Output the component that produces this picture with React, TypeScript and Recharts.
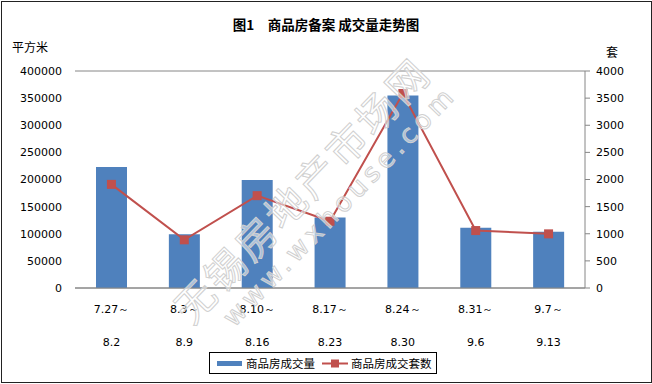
import React from 'react';
import { ComposedChart, Bar, Line, XAxis, YAxis, CartesianGrid } from 'recharts';

const periodStart = ['7.27～', '8.3～', '8.10～', '8.17～', '8.24～', '8.31～', '9.7～'];
const periodEnd = ['8.2', '8.9', '8.16', '8.23', '8.30', '9.6', '9.13'];
const areaValues = [223000, 99000, 199000, 130000, 355000, 111000, 103500];
const unitValues = [1910, 888, 1702, 1231, 3585, 1059, 998];
const leftTicks = [0, 50000, 100000, 150000, 200000, 250000, 300000, 350000, 400000];
const rightTicks = [0, 500, 1000, 1500, 2000, 2500, 3000, 3500, 4000];

const data = periodStart.map((s, i) => ({
  start: s,
  end: periodEnd[i],
  area: areaValues[i],
  units: unitValues[i],
}));

const BLUE = '#4F81BD';
const RED = '#C0504D';
const GRID = '#868686';
const NUM_FONT = '"DejaVu Sans", Verdana, sans-serif';
const CJK_FONT = '"Noto Sans CJK SC", "Noto Sans", sans-serif';

const XTick = (props: any) => {
  const { x, y, payload } = props;
  const i = payload.index;
  return (
    <g>
      <text x={x} y={y + 25} textAnchor="middle" fontSize={11} fontFamily={NUM_FONT} fill="#000">
        {periodStart[i]}
      </text>
      <text x={x} y={y + 58} textAnchor="middle" fontSize={11} fontFamily={NUM_FONT} fill="#000">
        {periodEnd[i]}
      </text>
    </g>
  );
};

const SquareDot = (props: any) => {
  const { cx, cy } = props;
  if (cx == null || cy == null) return null;
  return <rect x={cx - 4.5} y={cy - 4.5} width={9} height={9} fill={RED} />;
};

export default function App() {
  return (
    <div style={{ position: 'absolute', left: 0, top: 0, width: 652, height: 384, background: '#fff' }}>
      <style>{`body{margin:0}`}</style>
      <div
        style={{
          position: 'absolute', left: 1, top: 1, width: 649, height: 380,
          border: '1px solid #222', pointerEvents: 'none', zIndex: 2,
        }}
      />
      <div
        style={{
          position: 'absolute', left: 0, top: 14, width: 652, textAlign: 'center',
          fontFamily: CJK_FONT, fontWeight: 'bold', fontSize: 13.5, color: '#000', whiteSpace: 'pre',
        }}
      >
        {'图1　商品房备案 成交量走势图'}
      </div>
      <div style={{ position: 'absolute', left: 12, top: 38, fontFamily: CJK_FONT, fontSize: 12, color: '#000' }}>
        平方米
      </div>
      <div style={{ position: 'absolute', left: 606, top: 43, fontFamily: CJK_FONT, fontSize: 12, color: '#000' }}>
        套
      </div>
      <ComposedChart
        width={652}
        height={384}
        data={data}
        margin={{ top: 71, right: 0, bottom: 36, left: 0 }}
        barCategoryGap="57%"
      >
        <CartesianGrid vertical={false} stroke={GRID} strokeWidth={1} />
        <XAxis
          dataKey="start"
          height={60}
          tickLine={false}
          tickSize={0}
          tickMargin={0}
          axisLine={{ stroke: GRID }}
          tick={<XTick />}
          interval={0}
        />
        <YAxis
          yAxisId="left"
          orientation="left"
          width={75}
          domain={[0, 400000]}
          ticks={leftTicks}
          axisLine={false}
          tickLine={false}
          tickSize={5}
          tickMargin={8}
          tick={{ fontSize: 11, fontFamily: NUM_FONT, fill: '#000' }}
        />
        <YAxis
          yAxisId="right"
          orientation="right"
          width={67}
          domain={[0, 4000]}
          ticks={rightTicks}
          axisLine={{ stroke: GRID }}
          tickLine={{ stroke: GRID }}
          tickSize={5}
          tickMargin={6}
          tick={{ fontSize: 11, fontFamily: NUM_FONT, fill: '#000', textAnchor: 'start' }}
        />
        <Bar yAxisId="left" dataKey="area" name="商品房成交量" fill={BLUE} barSize={31} isAnimationActive={false} />
        <Line
          yAxisId="right"
          dataKey="units"
          name="商品房成交套数"
          stroke={RED}
          strokeWidth={2}
          dot={<SquareDot />}
          activeDot={false}
          isAnimationActive={false}
        />
      </ComposedChart>
      <svg
        width={652}
        height={384}
        style={{ position: 'absolute', left: 0, top: 0, pointerEvents: 'none', zIndex: 1 }}
      >
        <text
          x={0}
          y={0}
          transform="translate(192,326) rotate(-46)"
          fontFamily={CJK_FONT}
          fontSize={40}
          textLength={345}
          fill="rgba(255,255,255,0.5)"
          stroke="#d0d0d0"
          strokeWidth={1}
        >
          无锡房地产市场网
        </text>
        <text
          x={0}
          y={0}
          transform="translate(234,328) rotate(-46)"
          fontFamily={NUM_FONT}
          fontSize={26}
          textLength={318}
          fill="rgba(255,255,255,0.5)"
          stroke="#d0d0d0"
          strokeWidth={1}
        >
          www.wxhouse.com
        </text>
      </svg>
      <div
        style={{
          position: 'absolute', left: 209, top: 352, width: 228, height: 22,
          border: '1px solid #000', boxSizing: 'border-box', display: 'flex', alignItems: 'center',
          fontFamily: CJK_FONT, fontSize: 11.5, color: '#000', background: '#fff', whiteSpace: 'nowrap',
          zIndex: 3,
        }}
      >
        <svg width={34} height={19} style={{ flex: 'none' }}>
          <rect x={7} y={7} width={25} height={5} fill={BLUE} />
        </svg>
        <span style={{ marginLeft: 2 }}>商品房成交量</span>
        <svg width={30} height={19} style={{ flex: 'none', marginLeft: 5 }}>
          <line x1={2} y1={9.5} x2={28} y2={9.5} stroke={RED} strokeWidth={2} />
          <rect x={11} y={5.5} width={8} height={8} fill={RED} />
        </svg>
        <span style={{ marginLeft: 1 }}>商品房成交套数</span>
      </div>
    </div>
  );
}
